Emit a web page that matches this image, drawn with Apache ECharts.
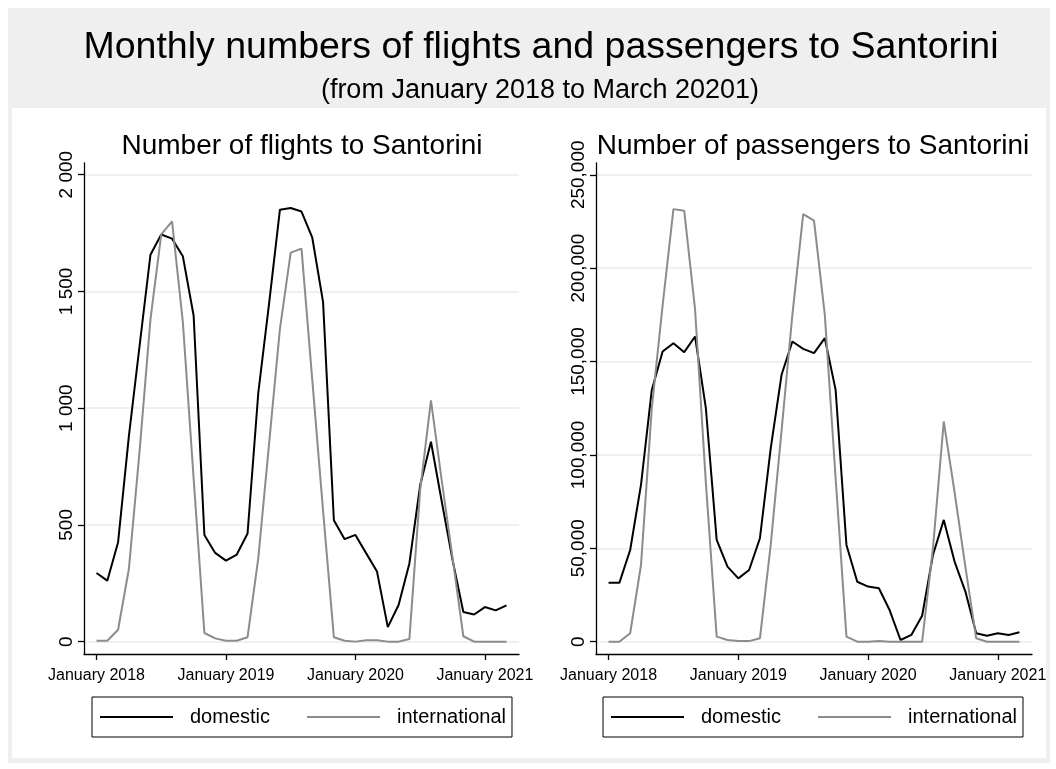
<!DOCTYPE html>
<html>
<head>
<meta charset="utf-8">
<script src="https://cdn.jsdelivr.net/npm/echarts@6/dist/echarts.min.js"></script>
<style>
  html, body { margin: 0; padding: 0; background: #ffffff; }
  #chart { width: 1056px; height: 769px; }
</style>
</head>
<body>
<div id="chart"></div>
<script>
// Months covered by the series (January 2018 .. March 2021)
const months = [
  '2018-01','2018-02','2018-03','2018-04','2018-05','2018-06','2018-07','2018-08','2018-09','2018-10','2018-11','2018-12',
  '2019-01','2019-02','2019-03','2019-04','2019-05','2019-06','2019-07','2019-08','2019-09','2019-10','2019-11','2019-12',
  '2020-01','2020-02','2020-03','2020-04','2020-05','2020-06','2020-07','2020-08','2020-09','2020-10','2020-11','2020-12',
  '2021-01','2021-02','2021-03'
];

// Flights per month
const flightsDomestic = [294, 261, 426, 880, 1270, 1657, 1744, 1726, 1651, 1397, 457, 380,
  347, 373, 463, 1068, 1450, 1850, 1857, 1842, 1730, 1454, 520, 439,
  457, 378, 300, 62, 157, 335, 670, 856, 600, 350, 127, 116,
  148, 134, 155];
const flightsInternational = [4, 4, 51, 311, 820, 1380, 1744, 1800, 1370, 700, 37, 14,
  4, 4, 19, 360, 850, 1340, 1666, 1683, 1120, 560, 19, 4,
  0, 6, 6, 0, 0, 11, 650, 1033, 690, 360, 23, 0,
  0, 0, 0];

// Passengers per month
const passengersDomestic = [31500, 31500, 49100, 84000, 134800, 155400, 159800, 155000, 163400, 125000, 54500, 40200,
  33900, 38400, 55400, 103600, 142900, 160700, 156800, 154500, 162500, 134800, 51800, 32100,
  29500, 28600, 16800, 900, 3600, 13900, 46400, 65200, 42900, 26800, 4500, 3200,
  4500, 3600, 5000];
const passengersInternational = [0, 0, 4500, 41000, 125000, 180000, 231600, 230700, 178000, 85000, 2700, 900,
  300, 300, 1800, 52000, 113000, 175000, 228900, 225400, 175000, 87500, 2700, 0,
  0, 300, 0, 0, 0, 0, 50000, 117900, 80000, 40000, 1800, 0,
  0, 0, 0];

// Axis ticks and their labels
const xTickMonths = ['2018-01', '2019-01', '2020-01', '2021-01'];
const xTickLabels = ['January 2018', 'January 2019', 'January 2020', 'January 2021'];
const flightTicks = [0, 500, 1000, 1500, 2000];
const flightTickLabels = ['0', '500', '1 000', '1 500', '2 000'];
const passengerTicks = [0, 50000, 100000, 150000, 200000, 250000];
const passengerTickLabels = ['0', '50,000', '100,000', '150,000', '200,000', '250,000'];

const FONT = '"Liberation Sans", Arial, Helvetica, sans-serif';
const DOMESTIC_COLOR = '#000000';
const INTERNATIONAL_COLOR = '#8c8c8c';
const GRID_COLOR = '#e5edf0';

const xTickValues = xTickMonths.map(m => months.indexOf(m));
const toPairs = arr => arr.map((v, i) => [i, v]);

function xAxisFor(gridIndex) {
  return {
    type: 'value', gridIndex: gridIndex, min: -1.16, max: 39.16,
    axisLine: { show: true, onZero: false, lineStyle: { color: '#000', width: 1.3 } },
    axisTick: { show: true, length: 6, customValues: xTickValues, lineStyle: { color: '#000', width: 1.3 } },
    axisLabel: {
      customValues: xTickValues, margin: 14, color: '#000', fontSize: 16, fontFamily: FONT,
      formatter: v => xTickLabels[xTickValues.indexOf(v)]
    },
    splitLine: { show: false }
  };
}

function yAxisFor(gridIndex, min, max, ticks, labels) {
  return {
    type: 'value', gridIndex: gridIndex, min: min, max: max,
    axisLine: { show: true, onZero: false, lineStyle: { color: '#000', width: 1.3 } },
    axisTick: { show: true, length: 6, customValues: ticks, lineStyle: { color: '#000', width: 1.3 } },
    axisLabel: {
      customValues: ticks, rotate: 90, margin: 8, color: '#000', fontSize: 19, fontFamily: FONT,
      formatter: v => labels[ticks.indexOf(v)]
    },
    splitLine: { show: true, customValues: ticks, lineStyle: { color: GRID_COLOR, width: 1.5 } }
  };
}

function lineSeries(name, data, color, axisIndex) {
  return {
    type: 'line', name: name, data: toPairs(data),
    xAxisIndex: axisIndex, yAxisIndex: axisIndex,
    showSymbol: false, symbol: 'none',
    lineStyle: { color: color, width: 2 },
    itemStyle: { color: color },
    emphasis: { disabled: true }
  };
}

function legendAt(left) {
  return {
    left: left, top: 697,
    orient: 'horizontal',
    icon: 'rect', itemWidth: 73, itemHeight: 2, itemGap: 37,
    borderColor: '#000', borderWidth: 1,
    padding: [9, 6, 9, 8],
    selectedMode: false,
    textStyle: { fontSize: 20, fontFamily: FONT, color: '#000', padding: [0, 0, 0, 12], lineHeight: 22 },
    data: ['domestic', 'international']
  };
}

const chart = echarts.init(document.getElementById('chart'), null, { renderer: 'canvas' });

chart.setOption({
  animation: false,
  backgroundColor: '#ffffff',
  graphic: [
    { type: 'rect', silent: true, z: -10, shape: { x: 8, y: 8, width: 1042, height: 755 }, style: { fill: '#efefef' } },
    { type: 'rect', silent: true, z: -9, shape: { x: 12, y: 108, width: 1034, height: 650 }, style: { fill: '#ffffff' } },
    { type: 'text', silent: true, x: 541, y: 48,
      style: { text: 'Monthly numbers of flights and passengers to Santorini', font: '37.5px ' + FONT, fill: '#000', align: 'center', verticalAlign: 'middle' } },
    { type: 'text', silent: true, x: 540, y: 91,
      style: { text: '(from January 2018 to March 20201)', font: '27px ' + FONT, fill: '#000', align: 'center', verticalAlign: 'middle' } },
    { type: 'text', silent: true, x: 302, y: 146,
      style: { text: 'Number of flights to Santorini', font: '28px ' + FONT, fill: '#000', align: 'center', verticalAlign: 'middle' } },
    { type: 'text', silent: true, x: 813, y: 146,
      style: { text: 'Number of passengers to Santorini', font: '28px ' + FONT, fill: '#000', align: 'center', verticalAlign: 'middle' } }
  ],
  legend: [legendAt(92), legendAt(603)],
  grid: [
    { left: 84, top: 163, width: 435, height: 491, containLabel: false },
    { left: 596, top: 163, width: 436, height: 491, containLabel: false }
  ],
  xAxis: [xAxisFor(0), xAxisFor(1)],
  yAxis: [
    yAxisFor(0, -53, 2050, flightTicks, flightTickLabels),
    yAxisFor(1, -6600, 256300, passengerTicks, passengerTickLabels)
  ],
  series: [
    lineSeries('domestic', flightsDomestic, DOMESTIC_COLOR, 0),
    lineSeries('international', flightsInternational, INTERNATIONAL_COLOR, 0),
    lineSeries('domestic', passengersDomestic, DOMESTIC_COLOR, 1),
    lineSeries('international', passengersInternational, INTERNATIONAL_COLOR, 1)
  ]
});
</script>
</body>
</html>
